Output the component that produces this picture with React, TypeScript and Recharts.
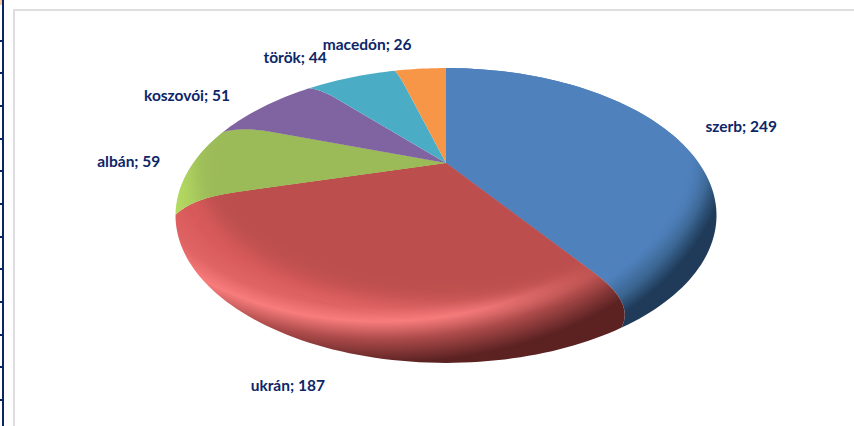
import React from "react";
import { PieChart, Pie } from "recharts";

const categories = ["szerb", "ukrán", "albán", "koszovói", "török", "macedón"];
const values = [249, 187, 59, 51, 44, 26];

const baseColors = ["#4f81bd", "#bc4f4d", "#9bbb59", "#8064a2", "#4bacc6", "#f79646"];
const LABEL_COLOR = "#0c2668";
const labelNudges = [[55, -22], [-41, 37], [-60, -9], [-76, -12], [-56, -20], [-53, -25]];
const frameTicks = [40, 72, 105, 138, 170, 203, 236, 268, 301, 334, 366, 399];

const chartData = categories.map((name, i) => ({ name, value: values[i] }));

const RAD = Math.PI / 180;
const PERSPECTIVE = 0.356;

// tilted-disc projection of a clockwise-from-top angle
function project(cx: number, cy: number, R: number, theta: number, r: number) {
  const u = r * Math.sin(theta * RAD);
  const v = r * Math.cos(theta * RAD);
  const w = 1 + PERSPECTIVE * v;
  return [cx + (0.9345 * R * u) / w, cy - (0.476 * R * v) / w];
}
function rimAngle(theta: number) {
  const s = Math.sin(theta * RAD);
  return theta - (s > 0 ? 10.6 : 16) * s;
}
function silhouette(cx: number, cy: number, R: number, theta: number) {
  const p = rimAngle(theta) * RAD;
  return [cx + R * Math.sin(p), cy + 0.194 * R - 0.545 * R * Math.cos(p)];
}
const f = (n: number) => n.toFixed(2);

function TiltedSlice(props: any) {
  const { cx, cy, outerRadius: R, startAngle, endAngle, index: idx, fill } = props;
  const index = idx ?? baseColors.indexOf(fill);
  const a = 90 - startAngle;
  const b = 90 - endAngle;
  const qa = project(cx, cy, R, a, 0.8);
  const ca = project(cx, cy, R, a, 0.95);
  const sa = silhouette(cx, cy, R, a);
  const qb = project(cx, cy, R, b, 0.8);
  const cb = project(cx, cy, R, b, 0.95);
  let d = `M${f(cx)},${f(cy)} L${f(qa[0])},${f(qa[1])} Q${f(ca[0])},${f(ca[1])} ${f(sa[0])},${f(sa[1])}`;
  const steps = Math.max(4, Math.ceil((b - a) / 1.5));
  for (let i = 1; i <= steps; i++) {
    const p = silhouette(cx, cy, R, a + ((b - a) * i) / steps);
    d += ` L${f(p[0])},${f(p[1])}`;
  }
  d += ` Q${f(cb[0])},${f(cb[1])} ${f(qb[0])},${f(qb[1])} Z`;

  const base = baseColors[index];
  const rim = `rim-${index}`;
  const clip = `clip-${index}`;
  const blur = `soft-${index}`;
  let rimDef: React.ReactNode = null;
  if (index === 0) {
    rimDef = (
      <radialGradient id={rim} gradientUnits="userSpaceOnUse" cx="0" cy="0" r="1"
        gradientTransform="translate(430 130) scale(303 238)">
        <stop offset="0.86" stopColor="#4f81bd" />
        <stop offset="0.94" stopColor="#3b6591" />
        <stop offset="1" stopColor="#1f3b59" />
      </radialGradient>
    );
  } else if (index === 1) {
    rimDef = (
      <radialGradient id={rim} gradientUnits="userSpaceOnUse" cx="0" cy="0" r="1"
        gradientTransform="translate(380 165) scale(330 198)">
        <stop offset="0.62" stopColor="#d95a5a" />
        <stop offset="0.72" stopColor="#e06464" />
        <stop offset="0.79" stopColor="#f87c7c" />
        <stop offset="0.88" stopColor="#ac4a4a" />
        <stop offset="1" stopColor="#5c2222" />
      </radialGradient>
    );
  } else if (index === 2) {
    rimDef = (
      <linearGradient id={rim} gradientUnits="userSpaceOnUse" x1="176" y1="0" x2="222" y2="0">
        <stop offset="0" stopColor="#b5da62" />
        <stop offset="1" stopColor={base} />
      </linearGradient>
    );
  }
  return (
    <g>
      <defs>
        {rimDef}
        <clipPath id={clip}><path d={d} /></clipPath>
        <filter id={blur} filterUnits="userSpaceOnUse" x="100" y="-40" width="700" height="460">
          <feGaussianBlur stdDeviation="9" />
        </filter>
      </defs>
      <path d={d} fill={rimDef ? `url(#${rim})` : base} />
      {rimDef ? (
        <g clipPath={`url(#${clip})`}>
          <ellipse cx={cx + 2} cy={cy + 6} rx={R * 0.925} ry={R * 0.49} fill={base} filter={`url(#${blur})`} />
        </g>
      ) : null}
    </g>
  );
}

function SliceLabel(props: any) {
  const { cx, cy, outerRadius: R, midAngle, name, value, index } = props;
  const p = silhouette(cx, cy, R, 90 - midAngle);
  const n = labelNudges[index];
  return (
    <text x={p[0] + n[0]} y={p[1] + n[1]} textAnchor="middle" dominantBaseline="central"
      fill={LABEL_COLOR} fontFamily="Lato, 'Open Sans', sans-serif" fontWeight={700} fontSize={15.5}>
      {`${name}; ${value}`}
    </text>
  );
}

export default function App() {
  return (
    <div style={{ position: "absolute", left: 0, top: 0, width: 854, height: 426, overflow: "hidden", background: "#fff" }}>
      <div style={{ position: "absolute", left: 0, top: 0, width: 2, height: 5, background: "#f4c9a0" }} />
      <div style={{ position: "absolute", left: 2, top: 0, width: 2, height: 426, background: "#0b2466" }} />
      {frameTicks.map((y) => (
        <div key={y} style={{ position: "absolute", left: 0, top: y, width: 3, height: 2, background: "#0b2466" }} />
      ))}
      <div style={{ position: "absolute", left: 13, top: 9, width: 841, height: 417, boxSizing: "border-box", borderTop: "2px solid #dedede", borderLeft: "2px solid #dedede" }} />
      <div style={{ position: "absolute", left: 0, top: 0 }}>
        <PieChart width={854} height={426} margin={{ top: 0, right: 0, bottom: 0, left: 0 }}>
          <Pie
            data={chartData}
            dataKey="value"
            nameKey="name"
            cx={446}
            cy={163}
            outerRadius={270.5}
            startAngle={90}
            endAngle={-270}
            stroke="none"
            isAnimationActive={false}
            shape={TiltedSlice}
            label={SliceLabel}
            labelLine={false}
          />
        </PieChart>
      </div>
    </div>
  );
}
